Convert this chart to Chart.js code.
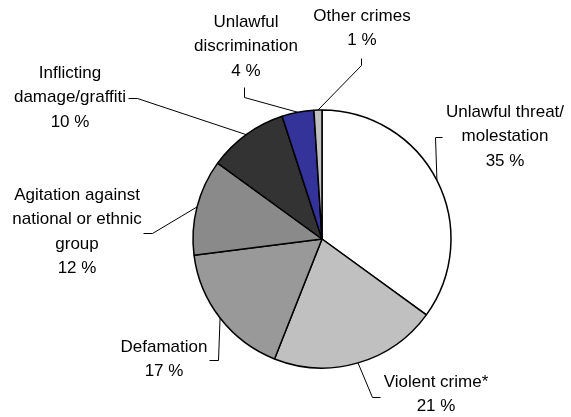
<!DOCTYPE html>
<html>
<head>
<meta charset="utf-8">
<script src="https://cdn.jsdelivr.net/npm/chart.js@4"></script>
<style>
html,body{margin:0;padding:0;background:#fff;}
#wrap{width:571px;height:417px;position:relative;}
</style>
</head>
<body>
<div id="wrap"><canvas id="c" width="571" height="417"></canvas></div>
<script>
// ---- data ----
const categories = [
  "Unlawful threat/ molestation",
  "Violent crime*",
  "Defamation",
  "Agitation against national or ethnic group",
  "Inflicting damage/graffiti",
  "Unlawful discrimination",
  "Other crimes"
];
const shares = [35, 21, 17, 12, 10, 4, 1];
const labelLines = [
  ["Unlawful threat/", "molestation"],
  ["Violent crime*"],
  ["Defamation"],
  ["Agitation against", "national or ethnic", "group"],
  ["Inflicting", "damage/graffiti"],
  ["Unlawful", "discrimination"],
  ["Other crimes"]
];
const sliceColors = ["#ffffff", "#c0c0c0", "#999999", "#8a8a8a", "#333333", "#333399", "#c0c0c0"];

// ---- label layout (center x, first line center y, leader elbow points) ----
const labelLayout = [
  {x: 505, y: 112, leader: [[435, 137], [442, 137]]},
  {x: 436, y: 382, leader: [[372, 397], [380, 397]]},
  {x: 164, y: 347, leader: [[218, 360], [209, 360]]},
  {x: 77,  y: 195, leader: [[152, 233], [143, 233]]},
  {x: 70,  y: 73,  leader: [[137, 98], [128, 98]]},
  {x: 246, y: 22,  leader: [[244, 97], [244, 87]]},
  {x: 362, y: 16,  leader: [[361, 65], [361, 58]]}
];
const lineH = 24.5;
const fontSpec = "17px 'Liberation Sans', Arial, sans-serif";

const labelPlugin = {
  id: 'pieLabels',
  afterDatasetsDraw(chart) {
    const ctx = chart.ctx;
    const meta = chart.getDatasetMeta(0);
    ctx.save();
    ctx.strokeStyle = '#000';
    ctx.lineWidth = 1;
    ctx.fillStyle = '#000';
    ctx.font = fontSpec;
    ctx.textAlign = 'center';
    ctx.textBaseline = 'middle';
    meta.data.forEach((arc, i) => {
      const p = arc.getProps(['x', 'y', 'startAngle', 'endAngle', 'outerRadius'], true);
      const mid = (p.startAngle + p.endAngle) / 2;
      const ex = p.x + Math.cos(mid) * p.outerRadius;
      const ey = p.y + Math.sin(mid) * p.outerRadius;
      const L = labelLayout[i];
      ctx.beginPath();
      ctx.moveTo(ex, ey);
      L.leader.forEach(pt => ctx.lineTo(pt[0] + 0.5, pt[1] + 0.5));
      ctx.stroke();
      const lines = labelLines[i].concat([shares[i] + " %"]);
      lines.forEach((t, k) => ctx.fillText(t, L.x, L.y + k * lineH));
    });
    ctx.restore();
  }
};

new Chart(document.getElementById('c'), {
  type: 'pie',
  data: {
    labels: categories,
    datasets: [{
      data: shares,
      backgroundColor: sliceColors,
      borderColor: '#000000',
      borderWidth: 1.5
    }]
  },
  options: {
    responsive: false,
    animation: false,
    devicePixelRatio: 1,
    radius: 129,
    layout: {padding: {left: 130, right: 57, top: 110, bottom: 49}},
    plugins: {legend: {display: false}, tooltip: {enabled: false}}
  },
  plugins: [labelPlugin]
});
</script>
</body>
</html>
